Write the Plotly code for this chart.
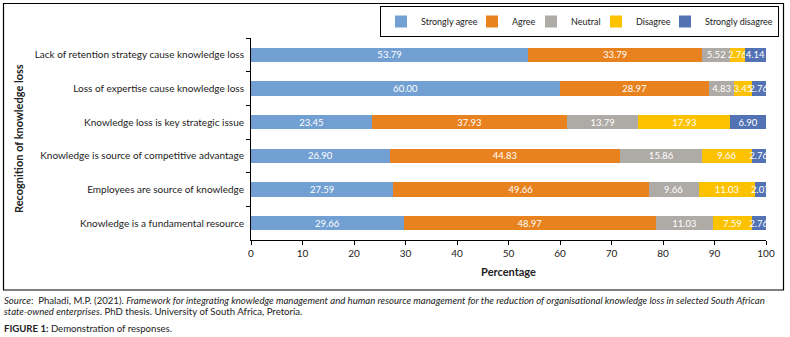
import plotly.graph_objects as go

categories = [
    "Lack of retention strategy cause knowledge loss",
    "Loss of expertise cause knowledge loss",
    "Knowledge loss is key strategic issue",
    "Knowledge is source of competitive advantage",
    "Employees are source of knowledge",
    "Knowledge is a fundamental resource",
]
strongly_agree = [53.79, 60.00, 23.45, 26.90, 27.59, 29.66]
agree = [33.79, 28.97, 37.93, 44.83, 49.66, 48.97]
neutral = [5.52, 4.83, 13.79, 15.86, 9.66, 11.03]
disagree = [2.76, 3.45, 17.93, 9.66, 11.03, 7.59]
strongly_disagree = [4.14, 2.76, 6.90, 2.76, 2.07, 2.76]
x_ticks = [0, 10, 20, 30, 40, 50, 60, 70, 80, 90, 100]

series = [
    ("Strongly agree", strongly_agree, "#72A0D2", 46),
    ("Agree", agree, "#E8821E", 14),
    ("Neutral", neutral, "#AEAAA6", 20),
    ("Disagree", disagree, "#FCC200", 24),
    ("Strongly disagree", strongly_disagree, "#5272B4", 0),
]

FONT = "Lato"
fig = go.Figure()
for name, vals, col, lw in series:
    fig.add_trace(go.Bar(
        y=categories, x=vals, name=name, orientation="h",
        marker=dict(color=col, line=dict(width=0)),
        text=[f"{v:.2f}" for v in vals], textposition="inside", textangle=0,
        insidetextanchor="middle", constraintext="none",
        textfont=dict(color="white", size=9.5, family=FONT),
        legendwidth=lw if lw else None,
    ))

L, R, T, B = 251, 766, 38, 240
W, H = 790, 337
pw, ph = R - L, B - T
def px(x): return (x - L) / pw
def py(y): return (B - y) / ph

fig.update_layout(
    width=W, height=H, barmode="stack", bargap=0.58,
    margin=dict(l=L, r=W - R, t=T, b=H - B, pad=0, autoexpand=False),
    paper_bgcolor="white", plot_bgcolor="white",
    font=dict(family=FONT, size=10, color="#222222"),
    uniformtext=dict(mode="show", minsize=9.5),
    showlegend=True,
    legend=dict(orientation="h", x=px(779), xanchor="right", y=py(6), yanchor="top",
                bordercolor="black", borderwidth=1, bgcolor="white",
                font=dict(size=9, family=FONT), traceorder="normal",
                itemwidth=30, tracegroupgap=0),
    xaxis=dict(range=[0, 100], tickvals=x_ticks, showgrid=False, zeroline=False,
               showline=True, linecolor="black", linewidth=1, ticks="outside",
               ticklen=4, tickcolor="black", automargin=False,
               title=dict(text="<b>Percentage</b>", font=dict(size=11), standoff=10)),
    yaxis=dict(autorange="reversed", showgrid=False, showline=True, linecolor="black",
               linewidth=1, ticks="outside", ticklen=4, tickcolor="black",
               tickson="boundaries", ticklabelstandoff=4, automargin=False),
)

fig.add_annotation(xref="paper", yref="paper", x=px(18), y=0.5, xanchor="center",
                   yanchor="middle", showarrow=False, textangle=-90,
                   font=dict(size=11, family=FONT, color="#222222"),
                   text="<b>Recognition of knowledge loss</b>")

fig.add_shape(type="rect", xref="paper", yref="paper",
              x0=px(3.5), x1=px(783.5), y0=py(290), y1=py(3.5),
              line=dict(color="black", width=1.2), layer="above")

note_font = dict(size=9.6, family=FONT, color="#222222")
notes = [
    (300, "<i>Source</i>:  Phaladi, M.P. (2021). <i>Framework for integrating knowledge management and human resource management for the reduction of organisational knowledge loss in selected South African</i>"),
    (311, "<i>state-owned enterprises</i>. PhD thesis. University of South Africa, Pretoria."),
    (328, "<b>FIGURE 1:</b> Demonstration of responses."),
]
for yy, txt in notes:
    fig.add_annotation(xref="paper", yref="paper", x=px(2), y=py(yy), xanchor="left",
                       yanchor="middle", showarrow=False, align="left", font=note_font, text=txt)

fig.write_html("out.html", config={"displayModeBar": False},
               post_script="document.body.style.margin='0';document.body.style.overflow='hidden';")
